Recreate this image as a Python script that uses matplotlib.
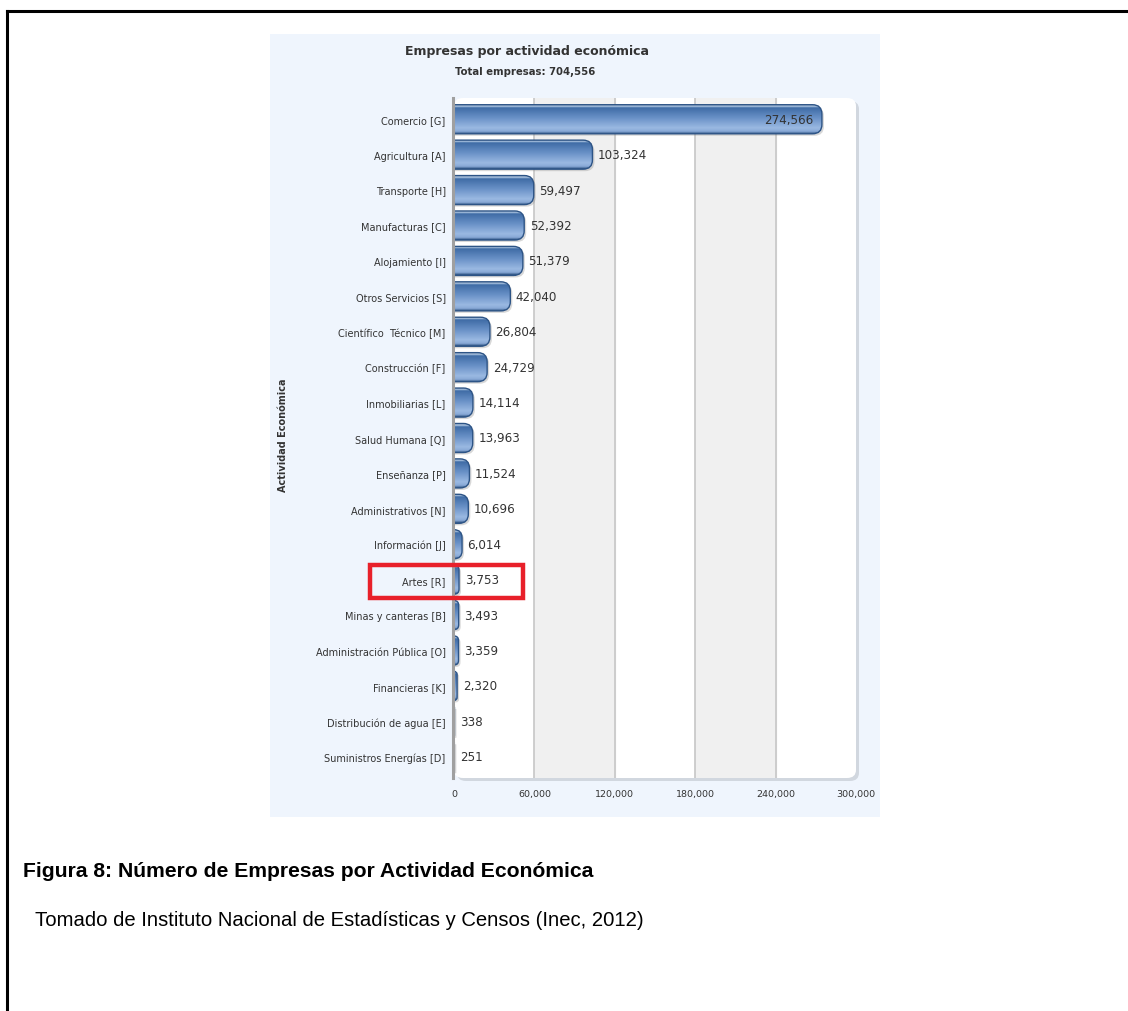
#!/usr/bin/python
import numpy as np
import matplotlib
matplotlib.use("Agg")
import matplotlib.pyplot as plt
from matplotlib.patches import FancyBboxPatch, Rectangle
from matplotlib.colors import LinearSegmentedColormap
import matplotlib.transforms as mtransforms

# datos
categorias = ["Comercio [G]", "Agricultura [A]", "Transporte [H]", "Manufacturas [C]",
              "Alojamiento [I]", "Otros Servicios [S]", "Científico  Técnico [M]",
              "Construcción [F]", "Inmobiliarias [L]", "Salud Humana [Q]",
              "Enseñanza [P]", "Administrativos [N]", "Información [J]", "Artes [R]",
              "Minas y canteras [B]", "Administración Pública [O]", "Financieras [K]",
              "Distribución de agua [E]", "Suministros Energías [D]"]
empresas = [274566, 103324, 59497, 52392, 51379, 42040, 26804, 24729, 14114, 13963,
            11524, 10696, 6014, 3753, 3493, 3359, 2320, 338, 251]
xticks = [0, 60000, 120000, 180000, 240000, 300000]
titulo = "Empresas por actividad económica"
subtitulo = "Total empresas: 704,556"
eje_y = "Actividad Económica"
pie1 = "Figura 8: Número de Empresas por Actividad Económica"
pie2 = "Tomado de Instituto Nacional de Estadísticas y Censos (Inec, 2012)"

W, H = 1128, 1012

def fx(x):
    return x / W

def fy(y):
    return 1 - y / H

fig = plt.figure(figsize=(W / 100, H / 100), dpi=100)
fig.patch.set_facecolor("white")

# marco del documento
fig.add_artist(plt.Line2D([fx(7), fx(7)], [fy(12), 0], color="black", lw=2.2))
fig.add_artist(plt.Line2D([fx(7), 1], [fy(12), fy(12)], color="black", lw=2.2))

# fondo del grafico
fig.add_artist(Rectangle((fx(270), fy(818)), fx(880) - fx(270), fy(35) - fy(818),
                         transform=fig.transFigure, facecolor="#eff5fd", edgecolor="none", zorder=0))

ax_l, ax_r, ax_t, ax_b = 454, 856, 99, 779
# caja blanca con sombra
for dx, dy, c, a in [(3, 3, "#9aa0a8", 0.35), (0, 0, "white", 1.0)]:
    fig.add_artist(FancyBboxPatch((fx(ax_l + dx), fy(ax_b + dy)), fx(ax_r) - fx(ax_l), fy(ax_t) - fy(ax_b),
                                  boxstyle="round,pad=0,rounding_size=0.008",
                                  transform=fig.transFigure, facecolor=c, edgecolor="none",
                                  alpha=a, zorder=0.5))

ax = fig.add_axes([fx(ax_l), fy(ax_b), fx(ax_r) - fx(ax_l), fy(ax_t) - fy(ax_b)])
ax.set_facecolor("none")
ax.set_zorder(1)
for s in ["top", "right", "bottom"]:
    ax.spines[s].set_visible(False)
ax.spines["left"].set_position(("outward", 1))
ax.spines["left"].set_color("#a0a0a0")
ax.spines["left"].set_linewidth(2.2)
ax.spines["left"].set_zorder(5)

y = np.arange(len(categorias))
ax.set_xlim(0, 300000)
ax.set_ylim(len(categorias) - 0.4, -0.6)

ax.axvspan(60000, 120000, color="#f0f0f0", zorder=0)
ax.axvspan(180000, 240000, color="#f0f0f0", zorder=0)
for t in xticks[1:-1]:
    ax.axvline(t, color="#c6c6c6", lw=1.2, zorder=0.5)

cmap = LinearSegmentedColormap.from_list("barra", [
    (0.0, "#2c5282"), (0.05, "#c9dbf0"), (0.12, "#3f6ca6"),
    (0.45, "#6890c6"), (0.8, "#9ab9e2"), (0.92, "#88a9d6"), (1.0, "#2c5282")])
grad = np.linspace(0, 1, 64).reshape(-1, 1)

h = 0.82
xpp = 300000 / (ax_r - ax_l)
ypp = (len(categorias) + 0.2) / (ax_b - ax_t)
asp = ypp / xpp
sombra = mtransforms.offset_copy(ax.transData, fig=fig, x=2, y=-2, units="dots")
for i, v in zip(y, empresas):
    r = 7000
    rs = min(r, v)
    sh = FancyBboxPatch((-r, i - h / 2), v + r, h, boxstyle=f"round,pad=0,rounding_size={rs}",
                        mutation_aspect=asp, transform=sombra, facecolor="#808080",
                        edgecolor="none", alpha=0.3, zorder=1.5)
    ax.add_patch(sh)
    p = FancyBboxPatch((-r, i - h / 2), v + r, h, boxstyle=f"round,pad=0,rounding_size={rs}",
                       mutation_aspect=asp, facecolor="none", edgecolor="#2d5486", lw=1, zorder=3)
    ax.add_patch(p)
    im = ax.imshow(grad, cmap=cmap, aspect="auto", extent=(-r, v, i + h / 2, i - h / 2),
                   origin="upper", zorder=2, interpolation="bilinear")
    im.set_clip_path(p)
    if v > 200000:
        ax.annotate(f"{v:,}", (v, i), xytext=(-6, 0), textcoords="offset points",
                    ha="right", va="center", fontsize=8.6, color="#333333", zorder=4)
    else:
        ax.annotate(f"{v:,}", (v, i), xytext=(4, 0), textcoords="offset points",
                    ha="left", va="center", fontsize=8.6, color="#333333", zorder=4)

ax.set_xlim(0, 300000)
ax.set_ylim(len(categorias) - 0.4, -0.6)
ax.set_xticks(xticks)
ax.set_xticklabels([f"{t:,}" for t in xticks], fontsize=6.8, color="#333333")
ax.set_yticks(y)
ax.set_yticklabels(categorias, fontsize=7, color="#333333")
ax.tick_params(length=0)
ax.tick_params(axis="x", pad=8)
ax.tick_params(axis="y", pad=5)

fig.text(fx(527), fy(51), titulo, ha="center", va="center", fontsize=9, fontweight="bold", color="#333333")
fig.text(fx(525), fy(72), subtitulo, ha="center", va="center", fontsize=7.3, fontweight="bold", color="#333333")
fig.text(fx(283), fy(435), eje_y, ha="center", va="center", rotation=90, fontsize=7, fontweight="bold", color="#333333")

# recuadro rojo
fig.add_artist(Rectangle((fx(370), fy(599)), fx(523) - fx(370), fy(566) - fy(599),
                         transform=fig.transFigure, facecolor="none", edgecolor="#e8202a", lw=3.2, zorder=6))

fig.text(fx(23), fy(872), pie1, ha="left", va="center", fontsize=15.2, fontweight="bold",
         family="Liberation Sans", color="black")
fig.text(fx(35), fy(921), pie2, ha="left", va="center", fontsize=14.6,
         family="Liberation Sans", color="black")

fig.savefig("out.png", dpi=100)
